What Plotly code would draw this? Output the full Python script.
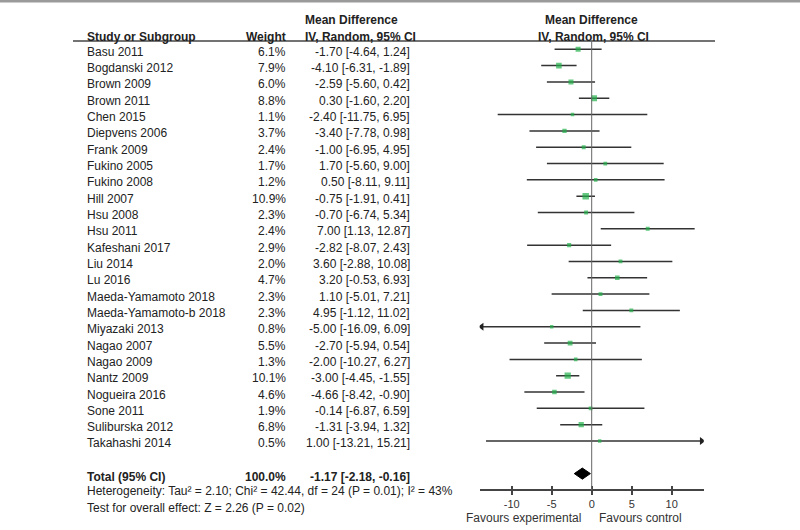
import plotly.graph_objects as go

studies = ["Basu 2011", "Bogdanski 2012", "Brown 2009", "Brown 2011", "Chen 2015",
           "Diepvens 2006", "Frank 2009", "Fukino 2005", "Fukino 2008", "Hill 2007",
           "Hsu 2008", "Hsu 2011", "Kafeshani 2017", "Liu 2014", "Lu 2016",
           "Maeda-Yamamoto 2018", "Maeda-Yamamoto-b 2018", "Miyazaki 2013", "Nagao 2007",
           "Nagao 2009", "Nantz 2009", "Nogueira 2016", "Sone 2011", "Suliburska 2012",
           "Takahashi 2014"]
weights = [6.1, 7.9, 6.0, 8.8, 1.1, 3.7, 2.4, 1.7, 1.2, 10.9, 2.3, 2.4, 2.9, 2.0, 4.7,
           2.3, 2.3, 0.8, 5.5, 1.3, 10.1, 4.6, 1.9, 6.8, 0.5]
means = [-1.70, -4.10, -2.59, 0.30, -2.40, -3.40, -1.00, 1.70, 0.50, -0.75, -0.70, 7.00,
         -2.82, 3.60, 3.20, 1.10, 4.95, -5.00, -2.70, -2.00, -3.00, -4.66, -0.14, -1.31, 1.00]
lowers = [-4.64, -6.31, -5.60, -1.60, -11.75, -7.78, -6.95, -5.60, -8.11, -1.91, -6.74, 1.13,
          -8.07, -2.88, -0.53, -5.01, -1.12, -16.09, -5.94, -10.27, -4.45, -8.42, -6.87, -3.94, -13.21]
uppers = [1.24, -1.89, 0.42, 2.20, 6.95, 0.98, 4.95, 9.00, 9.11, 0.41, 5.34, 12.87,
          2.43, 10.08, 6.93, 7.21, 11.02, 6.09, 0.54, 6.27, -1.55, -0.90, 6.59, 1.32, 15.21]
total_mean, total_lower, total_upper = -1.17, -2.18, -0.16
total_weight = "100.0%"
tick_vals = [-10, -5, 0, 5, 10]
tick_text = ["-10", "-5", "0", "5", "10"]
x_min, x_max = -14, 14

W, H = 800, 530
ROW0, ROWH = 49.3, 16.32


def py(p):  # pixel y -> data y
    return -(p - ROW0) / ROWH


def px(p):  # pixel x -> paper x
    return p / W


FONT = "Liberation Sans, Arial, sans-serif"
TXT = "#222222"
GREEN = "#22b14c"
FS = 12

fig = go.Figure()
rows = list(range(len(studies)))

# CI lines (clipped to axis range)
for i, (lo, hi) in enumerate(zip(lowers, uppers)):
    fig.add_trace(go.Scatter(x=[max(lo, x_min), min(hi, x_max)], y=[-i, -i], mode="lines",
                             line=dict(color="#333333", width=1.5), hoverinfo="skip",
                             showlegend=False))
    if lo < x_min:
        fig.add_trace(go.Scatter(x=[x_min + 0.25], y=[-i], mode="markers",
                                 marker=dict(symbol="triangle-left", size=7, color="#222"),
                                 showlegend=False, hoverinfo="skip"))
    if hi > x_max:
        fig.add_trace(go.Scatter(x=[x_max - 0.25], y=[-i], mode="markers",
                                 marker=dict(symbol="triangle-right", size=7, color="#222"),
                                 showlegend=False, hoverinfo="skip"))

# point estimates
fig.add_trace(go.Scatter(x=means, y=[-i for i in rows], mode="markers",
                         marker=dict(symbol="square", color=GREEN,
                                     size=[3.2 + 0.3 * w for w in weights], line=dict(width=0)),
                         showlegend=False))

# total diamond
ty = -26
dh = 0.34
fig.add_trace(go.Scatter(x=[total_lower, total_mean, total_upper, total_mean, total_lower],
                         y=[ty, ty + dh, ty, ty - dh, ty], mode="lines", fill="toself",
                         fillcolor="black", line=dict(color="black", width=1),
                         showlegend=False, hoverinfo="skip"))

# invisible trace on the overlay axis so it renders its inside ticks
fig.add_trace(go.Scatter(x=[x_min, x_max], y=[None, None], xaxis="x2", mode="markers",
                         showlegend=False, hoverinfo="skip"))

ann = []


def add_text(text, xp, yv, anchor, bold=False, size=FS, color=TXT, yshift=0):
    ann.append(dict(text=f"<b>{text}</b>" if bold else text, x=px(xp), xref="paper",
                    y=yv, yref="y", xanchor=anchor, yanchor="middle", showarrow=False,
                    font=dict(family=FONT, size=size, color=color), yshift=yshift))


for i, s in enumerate(studies):
    add_text(s, 85, -i, "left", yshift=-2.5)
    add_text(f"{weights[i]:.1f}%", 288, -i, "right", yshift=-2.5)
    add_text(f"{means[i]:.2f} [{lowers[i]:.2f}, {uppers[i]:.2f}]", 412, -i, "right", yshift=-2.5)

add_text("Total (95% CI)", 85, ty, "left", bold=True, yshift=-3.5)
add_text(total_weight, 288, ty, "right", bold=True, yshift=-3.5)
add_text(f"{total_mean:.2f} [{total_lower:.2f}, {total_upper:.2f}]", 412, ty, "right", bold=True, yshift=-3.5)
add_text("Heterogeneity: Tau² = 2.10; Chi² = 42.44, df = 24 (P = 0.01); I² = 43%", 85, py(491), "left")
add_text("Test for overall effect: Z = 2.26 (P = 0.02)", 85, py(508), "left")

# headers
add_text("Study or Subgroup", 85, py(37.3), "left", bold=True)
add_text("Weight", 288, py(37.3), "right", bold=True)
add_text("Mean Difference", 303, py(20), "left", bold=True)
add_text("IV, Random, 95% CI", 303, py(37.3), "left", bold=True)
add_text("Mean Difference", 591, py(20), "center", bold=True)
add_text("IV, Random, 95% CI", 593, py(37.3), "center", bold=True)

# favours labels
ann.append(dict(text="Favours experimental", x=px(583), xref="paper", y=(H - 517.5) / H, yref="paper",
                xanchor="right", yanchor="middle", showarrow=False,
                font=dict(family=FONT, size=FS, color="#333")))
ann.append(dict(text="Favours control", x=px(597), xref="paper", y=(H - 517.5) / H, yref="paper",
                xanchor="left", yanchor="middle", showarrow=False,
                font=dict(family=FONT, size=FS, color="#333")))

shapes = [
    dict(type="line", xref="paper", yref="paper", x0=0, x1=1, y0=1 - 1.2 / H, y1=1 - 1.2 / H,
         line=dict(color="#9a9a9a", width=2.5)),
    dict(type="line", xref="paper", yref="y", x0=px(73), x1=px(715), y0=py(41), y1=py(41),
         line=dict(color="#444", width=1.5)),
    dict(type="line", xref="x", yref="y", x0=0, x1=0, y0=py(41), y1=py(490),
         line=dict(color="#666", width=1)),
]

ax_l, ax_r = 479.7, 703.7
axpos = (H - 490) / H
fig.update_layout(
    width=W, height=H, margin=dict(l=0, r=0, t=0, b=0, autoexpand=False),
    paper_bgcolor="white", plot_bgcolor="rgba(0,0,0,0)",
    annotations=ann, shapes=shapes, showlegend=False,
    xaxis=dict(domain=[px(ax_l), px(ax_r)], range=[x_min, x_max], anchor="free",
               position=axpos, showline=True, linecolor="#444", linewidth=1.5,
               ticks="outside", ticklen=4, tickwidth=1.5, tickcolor="#444",
               tickvals=tick_vals, ticktext=tick_text, showgrid=False, zeroline=False,
               automargin=False,
               tickfont=dict(family=FONT, size=11, color="#333"), fixedrange=True),
    xaxis2=dict(domain=[px(ax_l), px(ax_r)], range=[x_min, x_max], anchor="free",
                position=axpos, overlaying="x", side="bottom", showline=False,
                ticks="inside", ticklen=4, tickwidth=1.5, tickcolor="#444",
                tickvals=tick_vals, showticklabels=False, showgrid=False, zeroline=False,
                automargin=False, fixedrange=True),
    yaxis=dict(range=[py(H), py(0)], visible=False, fixedrange=True, domain=[0, 1],
               automargin=False),
)

fig.write_html("out.html", config={"displayModeBar": False},
               post_script="document.body.style.margin='0';document.body.style.overflow='hidden';")
